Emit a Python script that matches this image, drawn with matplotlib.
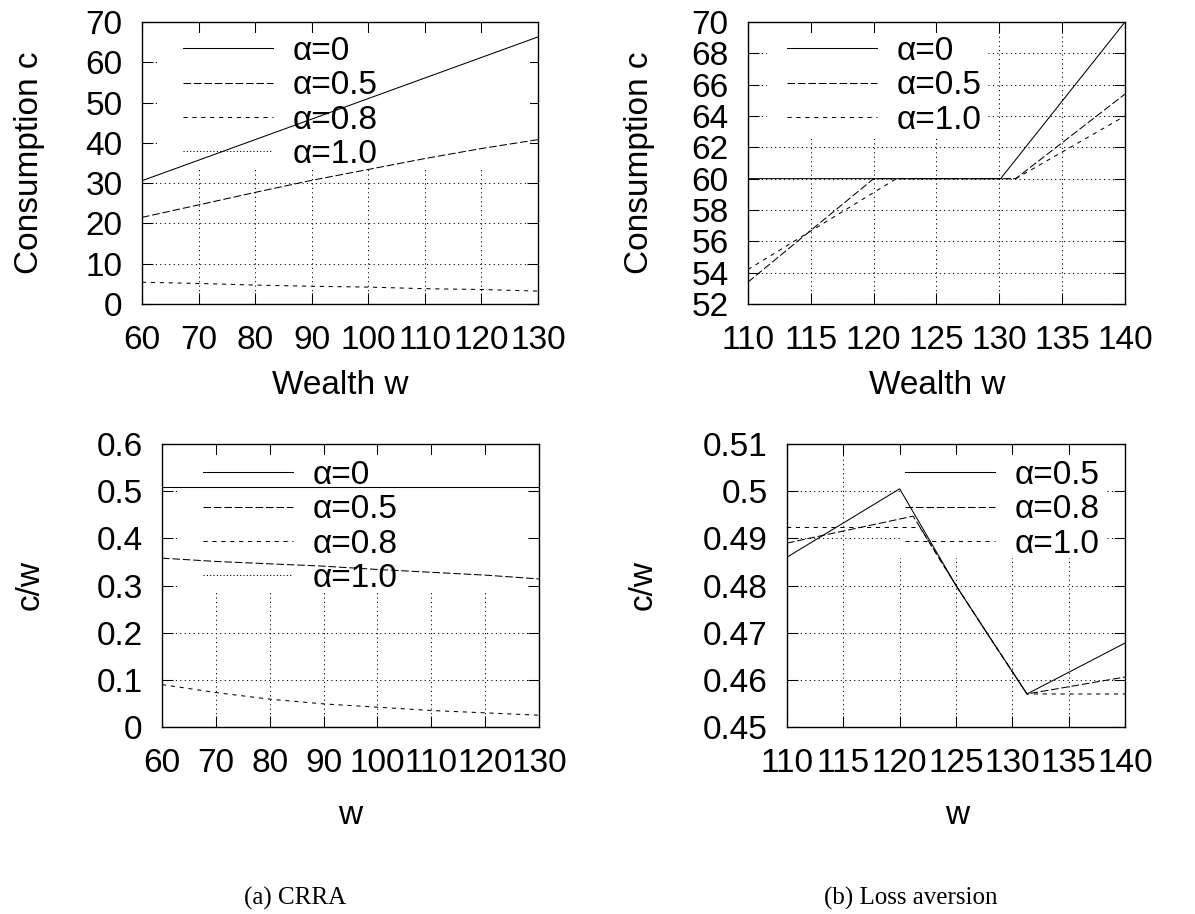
import matplotlib
matplotlib.use("Agg")
import matplotlib.pyplot as plt
from matplotlib.patches import Rectangle
from matplotlib.ticker import FuncFormatter

# (a) CRRA: consumption and c/w against wealth
w_crra = [60, 70, 80, 90, 100, 110, 120, 130]
c_crra_a0 = [30.6, 35.7, 40.8, 45.9, 51.0, 56.1, 61.2, 66.3]
c_crra_a05 = [21.5, 24.6, 27.7, 30.7, 33.4, 36.1, 38.6, 40.8]
c_crra_a08 = [5.4, 5.1, 4.7, 4.4, 4.2, 3.8, 3.6, 3.2]
c_crra_a10 = [0, 0, 0, 0, 0, 0, 0, 0]
cw_crra_a0 = [0.508, 0.508, 0.508, 0.508, 0.508, 0.508, 0.508, 0.508]
cw_crra_a05 = [0.358, 0.351, 0.346, 0.341, 0.334, 0.328, 0.322, 0.314]
cw_crra_a08 = [0.090, 0.073, 0.059, 0.049, 0.042, 0.035, 0.030, 0.025]
cw_crra_a10 = [0, 0, 0, 0, 0, 0, 0, 0]

# (b) loss aversion, consumption
w_la_a0 = [110, 130.1, 140]
c_la_a0 = [60, 60, 70]
w_la_a05 = [110, 120, 131.3, 140]
c_la_a05 = [53.4, 60, 60, 65.4]
w_la_a10 = [110, 121.8, 131.3, 140]
c_la_a10 = [54.2, 60, 60, 64.0]

# (b) loss aversion, c/w
w_cw_a05 = [110, 120, 125, 128, 131.3, 140]
cw_la_a05 = [0.486, 0.5005, 0.480, 0.469, 0.457, 0.4678]
w_cw_a08 = [110, 121.2, 125, 128, 131.3, 140]
cw_la_a08 = [0.489, 0.4947, 0.480, 0.469, 0.457, 0.4606]
w_cw_a10 = [110, 121.8, 125, 128, 131.3, 140]
cw_la_a10 = [0.4923, 0.4923, 0.480, 0.469, 0.457, 0.457]

xt_crra = [60, 70, 80, 90, 100, 110, 120, 130]
xt_la = [110, 115, 120, 125, 130, 135, 140]
yt_c_crra = [0, 10, 20, 30, 40, 50, 60, 70]
yt_c_la = [52, 54, 56, 58, 60, 62, 64, 66, 68, 70]
yt_cw_crra = [0, 0.1, 0.2, 0.3, 0.4, 0.5, 0.6]
yt_cw_la = [0.45, 0.46, 0.47, 0.48, 0.49, 0.5, 0.51]

FS = 24
plt.rcParams['font.family'] = ['Liberation Sans', 'DejaVu Sans']
plt.rcParams['font.size'] = FS
plt.rcParams['lines.scale_dashes'] = False

W, H = 1195, 914
fig = plt.figure(figsize=(W / 100, H / 100), dpi=100)

# gnuplot-like line types
lt = [dict(color='black', lw=0.75, ls='-'),
      dict(color='black', lw=0.75, ls=(0, (5.5, 2.0))),
      dict(color='black', lw=0.75, ls=(0, (3.0, 3.4))),
      dict(color='black', lw=0.75, ls=(0, (0.8, 1.6)))]
fmt = FuncFormatter(lambda v, p: '%g' % round(v, 6))


def panel(box, key_box, key_at, xlabel, ylabel, xlab_xy, ylab_x):
    l, t, r, b = box
    ax = fig.add_axes([l / W, 1 - b / H, (r - l) / W, (b - t) / H])
    fx = lambda x: (x - l) / (r - l)
    fy = lambda y: (b - y) / (b - t)
    ax.set_axisbelow(True)
    ax.grid(True, color='black', ls=(0, (0.8, 2.4)), lw=0.75)
    ax.tick_params(direction='in', length=8, width=0.75, top=True, right=True)
    ax.tick_params(axis='x', pad=15)
    ax.tick_params(axis='y', pad=14)
    for s in ax.spines.values():
        s.set_linewidth(1.0)
    kx0, ky0, kx1, ky1 = key_box
    ax.add_patch(Rectangle((fx(kx0), fy(ky1)), fx(kx1) - fx(kx0), fy(ky0) - fy(ky1),
                           transform=ax.transAxes, facecolor='white',
                           edgecolor='none', zorder=1))
    ax.set_xlabel(xlabel, va='center')
    ax.set_ylabel(ylabel, va='center')
    ax.xaxis.set_label_coords(fx(xlab_xy[0]), fy(xlab_xy[1]))
    ax.yaxis.set_label_coords(fx(ylab_x), 0.5)
    ax.yaxis.set_major_formatter(fmt)
    return ax, (fx(key_at[0]), fy(key_at[1] - 13))


def key(ax, anchor):
    leg = ax.legend(loc='upper left', bbox_to_anchor=anchor, frameon=False,
                    borderpad=0, borderaxespad=0, handlelength=2.7,
                    handletextpad=0.6, labelspacing=0.1, fontsize=FS)
    leg.set_zorder(1.5)


# top left
ax, anc = panel((142, 22, 538, 304), (157, 33, 530, 168), (183, 49),
                'Wealth w', 'Consumption c', (340, 385), 30)
ax.plot(w_crra, c_crra_a0, label='α=0', **lt[0])
ax.plot(w_crra, c_crra_a05, label='α=0.5', **lt[1])
ax.plot(w_crra, c_crra_a08, label='α=0.8', **lt[2])
ax.plot(w_crra, c_crra_a10, label='α=1.0', **lt[3])
ax.set_xlim(60, 130)
ax.set_ylim(0, 70)
ax.set_xticks(xt_crra)
ax.set_yticks(yt_c_crra)
key(ax, anc)

# top right
ax, anc = panel((748, 22, 1125, 304), (767, 33, 987, 137), (787, 49),
                'Wealth w', 'Consumption c', (937, 385), 640)
ax.plot(w_la_a0, c_la_a0, label='α=0', **lt[0])
ax.plot(w_la_a05, c_la_a05, label='α=0.5', **lt[1])
ax.plot(w_la_a10, c_la_a10, label='α=1.0', **lt[2])
ax.set_xlim(110, 140)
ax.set_ylim(52, 70)
ax.set_xticks(xt_la)
ax.set_yticks(yt_c_la)
key(ax, anc)

# bottom left
ax, anc = panel((162, 444, 539, 727), (180, 455, 528, 590), (203, 473),
                'w', 'c/w', (350, 815), 30)
ax.plot(w_crra, cw_crra_a0, label='α=0', **lt[0])
ax.plot(w_crra, cw_crra_a05, label='α=0.5', **lt[1])
ax.plot(w_crra, cw_crra_a08, label='α=0.8', **lt[2])
ax.plot(w_crra, cw_crra_a10, label='α=1.0', **lt[3])
ax.set_xlim(60, 130)
ax.set_ylim(0, 0.6)
ax.set_xticks(xt_crra)
ax.set_yticks(yt_cw_crra)
key(ax, anc)

# bottom right
ax, anc = panel((787, 444, 1125, 727), (900, 455, 1107, 558), (905, 473),
                'w', 'c/w', (957, 815), 643)
ax.plot(w_cw_a05, cw_la_a05, label='α=0.5', **lt[0])
ax.plot(w_cw_a08, cw_la_a08, label='α=0.8', **lt[1])
ax.plot(w_cw_a10, cw_la_a10, label='α=1.0', **lt[2])
ax.set_xlim(110, 140)
ax.set_ylim(0.45, 0.51)
ax.set_xticks(xt_la)
ax.set_yticks(yt_cw_la)
key(ax, anc)

cap = dict(family=['Liberation Serif', 'DejaVu Serif'], fontsize=18, ha='center', va='center')
fig.text(295 / W, 1 - 898 / H, '(a) CRRA', **cap)
fig.text(911 / W, 1 - 898 / H, '(b) Loss aversion', **cap)

fig.savefig('out.png', dpi=100)
